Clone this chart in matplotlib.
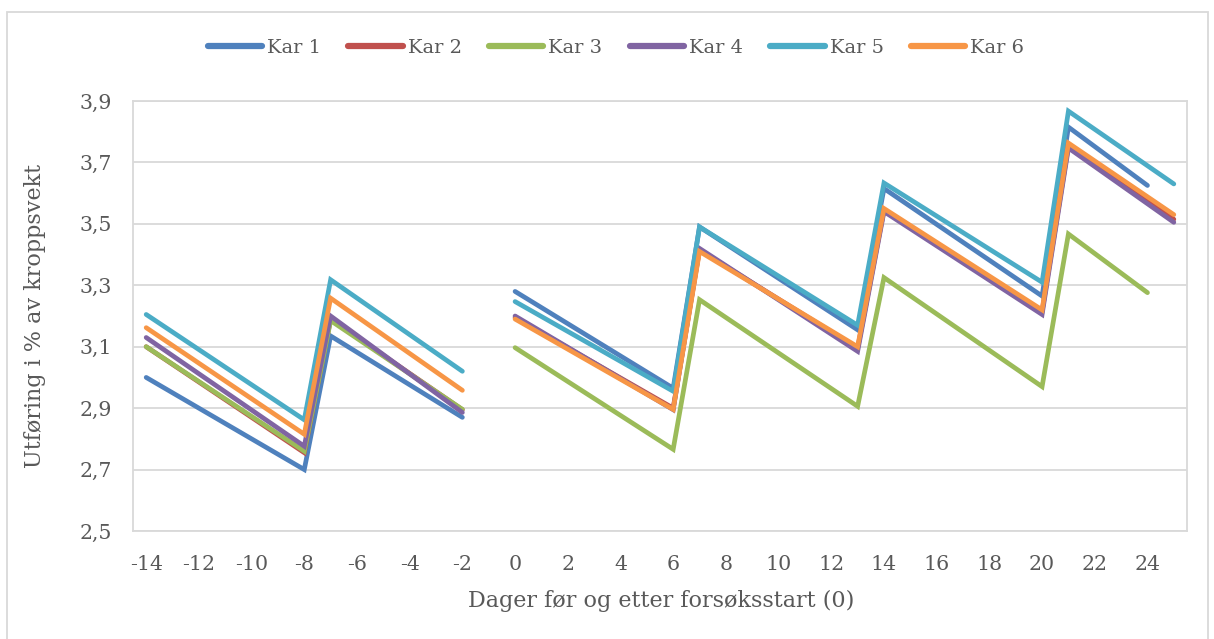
import numpy as np
import matplotlib
matplotlib.use("Agg")
import matplotlib.pyplot as plt
from matplotlib.patches import Rectangle

nan = np.nan

# Day categories on the x axis (-14 .. 25)
days = list(range(-14, 26))

# Measured days and values per tank (blank days are left empty)
obs_days = [-14, -8, -7, -2, 0, 6, 7, 13, 14, 20, 21, 24, 25]

kar1 = [3.00, 2.70, 3.135, 2.87, 3.28, 2.965, 3.49, 3.155, 3.615, 3.265, 3.815, 3.625, nan]
kar2 = [3.10, 2.755, 3.19, 2.895, 3.195, 2.90, 3.415, 3.095, 3.545, 3.215, 3.755, nan, 3.515]
kar3 = [3.10, 2.76, 3.185, 2.896, 3.097, 2.766, 3.253, 2.906, 3.325, 2.97, 3.467, 3.276, nan]
kar4 = [3.13, 2.776, 3.20, 2.886, 3.20, 2.895, 3.42, 3.085, 3.54, 3.205, 3.747, nan, 3.505]
kar5 = [3.205, 2.862, 3.318, 3.02, 3.247, 2.955, 3.49, 3.17, 3.633, 3.31, 3.867, nan, 3.63]
kar6 = [3.162, 2.815, 3.258, 2.958, 3.19, 2.896, 3.41, 3.10, 3.55, 3.22, 3.763, nan, 3.53]

series = {"Kar 1": kar1, "Kar 2": kar2, "Kar 3": kar3,
          "Kar 4": kar4, "Kar 5": kar5, "Kar 6": kar6}
colors = ["#4F81BD", "#C0504D", "#9BBB59", "#8064A2", "#4BACC6", "#F79646"]

y_ticks = [2.5, 2.7, 2.9, 3.1, 3.3, 3.5, 3.7, 3.9]
x_tick_days = list(range(-14, 25, 2))

plt.rcParams["font.family"] = ["DejaVu Serif"]

W, H = 1214, 639
fig = plt.figure(figsize=(W / 100, H / 100), dpi=100)
ax = fig.add_axes([133 / W, 1 - 531 / H, (1187 - 133) / W, (531 - 101) / H])

pos = {d: i for i, d in enumerate(days)}


def segments(xs, ys):
    """Split a series into runs; the line breaks across the unobserved day -1."""
    pts = [(x, y) for x, y in zip(xs, ys) if not np.isnan(y)]
    runs, cur = [], []
    for x, y in pts:
        if cur and cur[-1][0] < 0 <= x:
            runs.append(cur)
            cur = []
        cur.append((x, y))
    if cur:
        runs.append(cur)
    return runs


for (name, vals), col in zip(series.items(), colors):
    first = True
    for run in segments(obs_days, vals):
        ax.plot([pos[d] for d, _ in run], [v for _, v in run], color=col,
                lw=3.4, solid_capstyle="round", solid_joinstyle="miter",
                label=name if first else None)
        first = False

ax.set_xlim(-0.5, len(days) - 0.5)
ax.set_ylim(2.5, 3.9)
ax.set_yticks(y_ticks)
ax.set_yticklabels([f"{v:.1f}".replace(".", ",") for v in y_ticks])
ax.set_xticks([pos[d] for d in x_tick_days])
ax.set_xticklabels([str(d) for d in x_tick_days])
ax.tick_params(axis="x", length=0, labelsize=14.8, colors="#595959", pad=17)
ax.tick_params(axis="y", length=0, labelsize=14.8, colors="#595959", pad=15)
ax.yaxis.grid(True, color="#D9D9D9", lw=1.3)
ax.set_axisbelow(True)
for s in ["left", "right", "top", "bottom"]:
    ax.spines[s].set_color("#D9D9D9")
    ax.spines[s].set_linewidth(1.3)

fig.text(35 / W, 1 - 316 / H, "Utføring i % av kroppsvekt", rotation=90,
         ha="center", va="center", fontsize=16, color="#595959")
fig.text(661 / W, 1 - 601 / H, "Dager før og etter forsøksstart (0)",
         ha="center", va="center", fontsize=16, color="#595959")

leg = fig.legend(loc="center", bbox_to_anchor=(616 / W, 1 - 48 / H), ncol=6,
                 frameon=False, fontsize=14, handlelength=2.8, columnspacing=1.4,
                 handletextpad=0.25)
for t in leg.get_texts():
    t.set_color("#595959")
for h in leg.legend_handles:
    h.set_linewidth(4.5)

fig.patches.append(Rectangle((7 / W, -0.05), (1208 - 7) / W, 1.05 - 12 / H,
                             transform=fig.transFigure, fill=False,
                             edgecolor="#D9D9D9", lw=1.3))

fig.savefig("out.png", dpi=100)
